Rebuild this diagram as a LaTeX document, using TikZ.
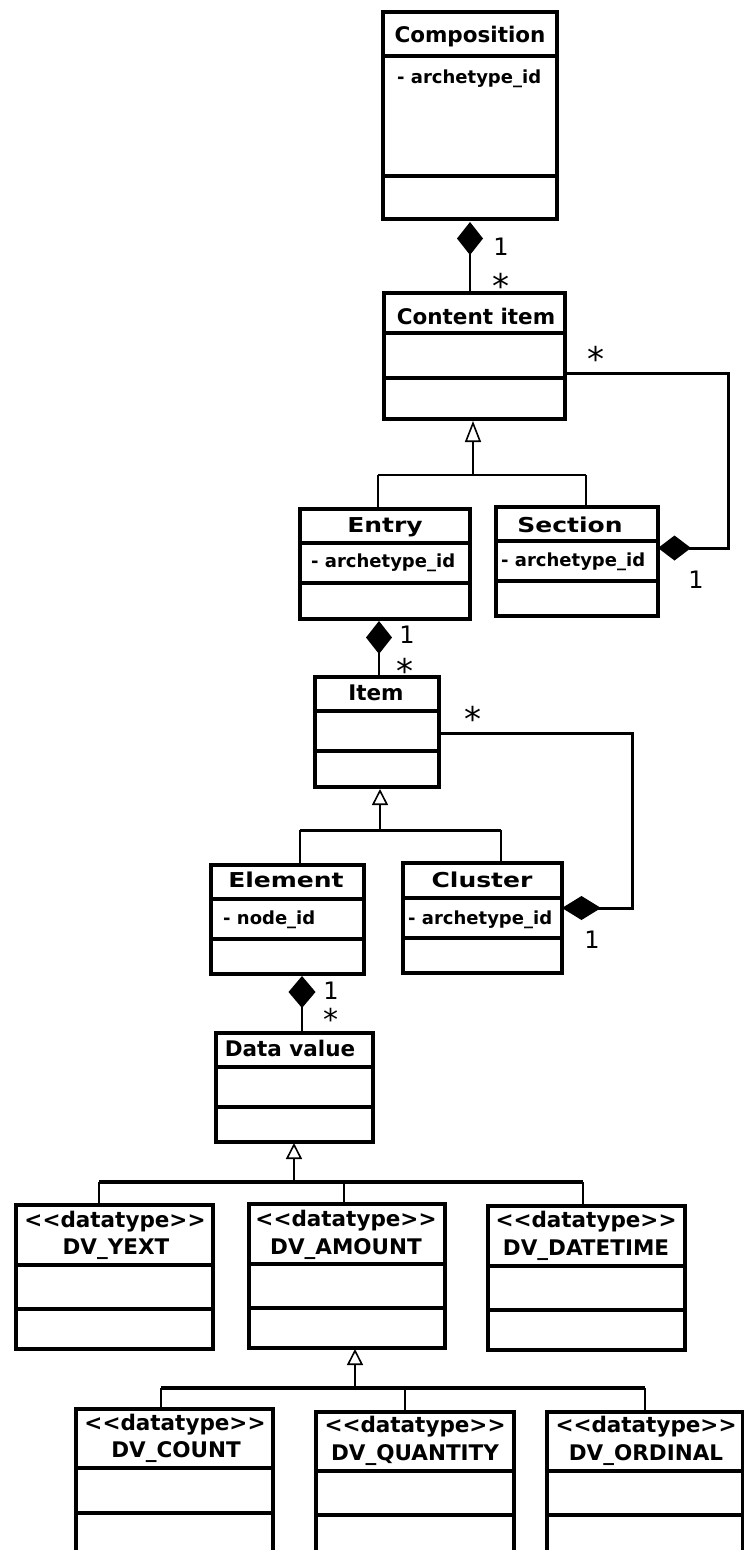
\documentclass[tikz,border=0pt]{standalone}
\usepackage{fontspec}
\setmainfont{DejaVu Sans}
\newfontfamily\widefont[FakeStretch=1.22]{DejaVu Sans}
\usetikzlibrary{arrows.meta}

% class box: name, x1, y1, x2, y2, first divider, second divider
\newcommand\umlclass[7]{%
  \node[classbox, minimum width={(#4-#2)*1pt}, minimum height={(#5-#3)*1pt}] (#1) at (#2,#3) {};
  \draw[divider] (#2,#6) -- (#4,#6);
  \draw[divider] (#2,#7) -- (#4,#7);
}
% stereotype text, kept free of the << >> ligatures
\newcommand\dtype{<\kern0pt<datatype>\kern0pt>}

\tikzset{
  classbox/.style={draw, line width=3.5pt, inner sep=0pt, outer sep=0pt, anchor=north west},
  divider/.style={line width=3.2pt},
  ctitle/.style={font=\bfseries\fontsize{21.5}{24}\selectfont, inner sep=0pt, anchor=base},
  wtitle/.style={font=\widefont\bfseries\fontsize{20.5}{22}\selectfont, inner sep=0pt, anchor=base},
  attr/.style={font=\bfseries\fontsize{18}{20}\selectfont, inner sep=0pt, anchor=base west},
  mult/.style={font=\fontsize{24}{26}\selectfont, inner sep=0pt, anchor=base},
  star/.style={font=\fontsize{34}{36}\selectfont, inner sep=0pt, anchor=base},
  genline/.style={line width=1.6pt},
  genbar/.style={line width=3pt},
  gentip/.style={-{Triangle[open, length=16pt, width=16pt, line width=1.6pt]}},
  compline/.style={line width=3pt, line join=miter},
  vdiamond/.style={-{Diamond[length=33pt, width=26pt]}},
}

\begin{document}
\begin{tikzpicture}[x=1pt, y=-1pt]
\useasboundingbox (0,0) rectangle (744,1550);
\fill[white] (0,0) rectangle (744,1550);
\clip (0,0) rectangle (744,1550);

% ---- classes ----
\umlclass{comp}{383}{12}{557}{219}{56}{176}
\umlclass{content}{384}{293}{565}{419}{333}{378}
\umlclass{entry}{300}{509}{470}{619}{543}{583}
\umlclass{section}{496}{507}{658}{616}{541}{581}
\umlclass{item}{315}{677}{439}{787}{711}{751}
\umlclass{element}{211}{865}{364}{974}{899}{939}
\umlclass{cluster}{403}{863}{562}{973}{898}{938}
\umlclass{dv}{216}{1033}{373}{1142}{1067}{1107}
\umlclass{yext}{16}{1205}{213}{1349}{1265}{1309}
\umlclass{amount}{249}{1204}{445}{1348}{1264}{1308}
\umlclass{datetime}{488}{1206}{685}{1350}{1266}{1310}
\umlclass{count}{76}{1409}{273}{1600}{1468}{1513}
\umlclass{quantity}{316}{1412}{514}{1600}{1471}{1515}
\umlclass{ordinal}{547}{1412}{743}{1600}{1471}{1515}

% ---- titles and attributes ----
\node[ctitle] (comp-t) at (470,42) {Composition};
\node[attr] (comp-a) at (397,83) {- archetype\_id};
\node[ctitle] (content-t) at (476,324) {Content item};
\node[wtitle] (entry-t) at (385,532) {Entry};
\node[attr] (entry-a) at (311,567) {- archetype\_id};
\node[wtitle] (section-t) at (570,532) {Section};
\node[attr] (section-a) at (501,566) {- archetype\_id};
\node[ctitle] (item-t) at (376,700) {Item};
\node[wtitle] (element-t) at (286,887) {Element};
\node[attr] (element-a) at (223,924) {- node\_id};
\node[wtitle] (cluster-t) at (482,887) {Cluster};
\node[attr] (cluster-a) at (408,924) {- archetype\_id};
\node[ctitle] (dv-t) at (290,1056) {Data value};

\node[ctitle] (yext-s) at (115,1227) {\dtype};
\node[ctitle] (yext-t) at (116,1254) {DV\_YEXT};
\node[ctitle] (amount-s) at (346,1226) {\dtype};
\node[ctitle] (amount-t) at (346,1254) {DV\_AMOUNT};
\node[ctitle] (datetime-s) at (586,1227) {\dtype};
\node[ctitle] (datetime-t) at (586,1255) {DV\_DATETIME};
\node[ctitle] (count-s) at (175,1430) {\dtype};
\node[ctitle] (count-t) at (176,1457) {DV\_COUNT};
\node[ctitle] (quantity-s) at (415,1432) {\dtype};
\node[ctitle] (quantity-t) at (415,1460) {DV\_QUANTITY};
\node[ctitle] (ordinal-s) at (646,1432) {\dtype};
\node[ctitle] (ordinal-t) at (646,1460) {DV\_ORDINAL};

% ---- compositions ----
\draw[compline, line width=2pt, vdiamond, shorten >=3pt] ([xshift=-4.5pt]content.north) -- (comp.south);
\node[mult] (m1a) at (501,255) {1};
\node[star] (m1b) at (501,298) {*};

\draw[compline, -{Diamond[length=33pt, width=25pt]}] ([yshift=-17pt]content.east) -- (728,373) -- (728,548) -- ([yshift=13.5pt]section.east);
\node[star] (m2a) at (596,371) {*};
\node[mult] (m2b) at (696,588) {1};

\draw[compline, line width=2pt, vdiamond, shorten >=2pt] ([xshift=2pt]item.north) -- ([xshift=-6pt]entry.south);
\node[mult] (m3a) at (407,643) {1};
\node[star] (m3b) at (405,683) {*};

\draw[compline, -{Diamond[length=39pt, width=24pt]}] ([yshift=-1pt]item.east) -- (632,733) -- (632,908) -- ([yshift=10pt]cluster.east);
\node[star] (m4a) at (473,731) {*};
\node[mult] (m4b) at (592,948) {1};

\draw[compline, line width=2pt, -{Diamond[length=32pt, width=27pt]}, shorten >=2pt] ([xshift=7.5pt]dv.north) -- ([xshift=14.5pt]element.south);
\node[mult] (m5a) at (331,999) {1};
\node[star, font=\fontsize{30}{32}\selectfont] (m5b) at (331,1030) {*};

% ---- generalizations ----
\coordinate (g1) at (473,475);
\draw[genline, -{Triangle[open, length=21pt, width=16pt, line width=1.6pt]}, shorten >=2pt] (g1) -- (g1 |- content.south);
\draw[genbar, line width=2.5pt] (378,475) coordinate (g1l) -- (586,475) coordinate (g1r);
\draw[genline] (g1l) -- (g1l |- entry.north);
\draw[genline] (g1r) -- (g1r |- section.north);

\coordinate (g2) at (380,830);
\draw[genline, gentip, shorten >=2pt] (g2) -- (g2 |- item.south);
\draw[genbar] (300,830) coordinate (g2l) -- (501,830) coordinate (g2r);
\draw[genline] (g2l) -- (g2l |- element.north);
\draw[genline] (g2r) -- (g2r |- cluster.north);

\coordinate (g3) at (294,1182);
\draw[genline, gentip, shorten >=1pt] (g3) -- (g3 |- dv.south);
\draw[genbar, line width=4pt] (99,1182) coordinate (g3l) -- (583,1182) coordinate (g3r);
\draw[genline] (g3l) -- (g3l |- yext.north);
\draw[genline] (344,1182) coordinate (g3m) -- (g3m |- amount.north);
\draw[genline] (g3r) -- (g3r |- datetime.north);

\coordinate (g4) at (355,1388);
\draw[genline, gentip, shorten >=1pt] (g4) -- (g4 |- amount.south);
\draw[genbar, line width=4pt] (161,1388) coordinate (g4l) -- (645,1388) coordinate (g4r);
\draw[genline] (g4l) -- (g4l |- count.north);
\draw[genline] (405,1388) coordinate (g4m) -- (g4m |- quantity.north);
\draw[genline] (g4r) -- (g4r |- ordinal.north);
\end{tikzpicture}
\end{document}
